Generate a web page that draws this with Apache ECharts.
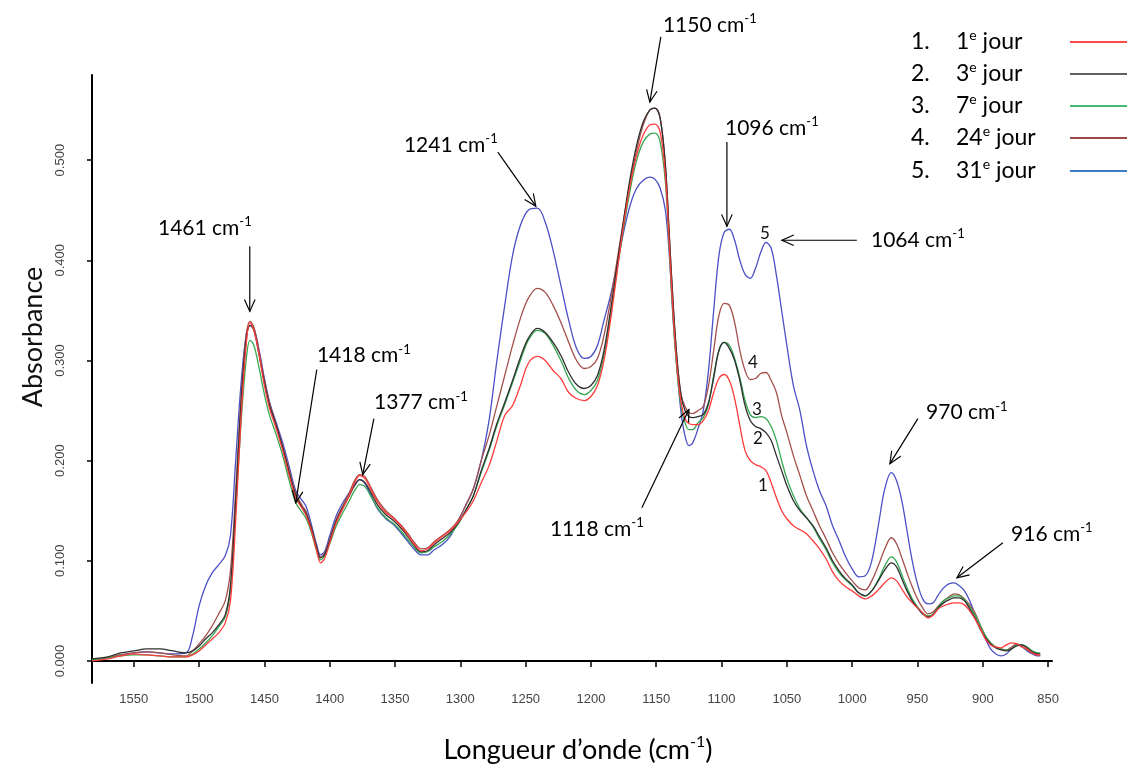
<!DOCTYPE html>
<html><head><meta charset="utf-8">
<script src="https://cdn.jsdelivr.net/npm/echarts@6/dist/echarts.min.js"></script>
<style>html,body{margin:0;padding:0;background:#fff}#c{width:1130px;height:770px}</style>
</head><body><div id="c"></div>
<script>
// Wavenumbers (cm-1)
const wavenumbers = [
1582,1570,1560,1550,1540,1530,1520,1510,1505,
1500,1495,1490,1485,1480,1476,1472,1468,1464,1461,
1458,1454,1450,1446,1441,1436,1431,1426,1421,1418,
1414,1410,1407,1404,1400,1395,1390,1385,1381,1377,
1373,1368,1363,1357,1351,1345,1340,1335,1330,1325,
1320,1314,1308,1302,1296,1290,1284,1278,1272,1266,
1260,1254,1248,1241,1235,1229,1223,1217,1211,1205,
1200,1195,1190,1185,1180,1175,1170,1165,1160,1155,
1151,1147,1143,1140,1137,1134,1131,1128,1125,1122,
1118,1114,1110,1106,1102,1098,1094,1090,1086,1082,
1078,1074,1070,1066,1062,1058,1054,1050,1045,
1040,1035,1030,1025,1020,1015,1010,1005,1000,
995,990,985,980,975,970,966,962,958,
954,950,946,942,938,934,930,926,922,
918,914,910,906,902,898,894,890,886,
882,878,874,870,866,862,858,856];

const day1 = [
.000,.002,.005,.007,.006,.005,.004,.004,.006,
.010,.016,.022,.028,.038,.060,.140,.240,.315,.338,
.330,.305,.275,.252,.232,.210,.185,.163,.152,.145,
.130,.110,.098,.102,.118,.138,.152,.165,.178,.185,
.182,.170,.158,.148,.142,.134,.125,.116,.110,.112,
.118,.124,.130,.138,.148,.160,.178,.195,.220,.245,
.255,.275,.297,.304,.300,.290,.282,.268,.262,.260,
.264,.275,.300,.340,.388,.435,.475,.505,.525,.535,
.536,.528,.485,.415,.345,.292,.258,.242,.237,.236,
.236,.240,.250,.268,.282,.286,.280,.262,.235,.210,
.200,.196,.194,.190,.178,.163,.150,.142,.135,
.131,.127,.120,.112,.102,.089,.080,.074,.070,
.065,.062,.065,.071,.078,.083,.080,.072,.064,
.058,.053,.048,.043,.046,.052,.055,.057,.058,
.058,.056,.050,.042,.033,.022,.016,.014,.013,
.016,.018,.017,.014,.012,.008,.006,.006];

const day3 = [
.002,.004,.008,.010,.012,.012,.010,.008,.010,
.015,.022,.028,.036,.046,.075,.160,.255,.320,.335,
.330,.305,.278,.255,.235,.213,.188,.165,.153,.147,
.132,.113,.103,.106,.120,.140,.153,.165,.175,.181,
.178,.167,.155,.146,.140,.132,.124,.115,.109,.110,
.116,.122,.128,.137,.150,.165,.190,.212,.237,.258,
.280,.303,.322,.332,.328,.318,.305,.288,.276,.272,
.275,.285,.310,.350,.395,.440,.482,.515,.538,.550,
.552,.542,.495,.425,.355,.300,.265,.250,.244,.243,
.244,.246,.258,.283,.310,.318,.312,.300,.280,.255,
.240,.234,.232,.228,.220,.205,.190,.175,.160,
.150,.143,.135,.124,.113,.100,.090,.082,.076,
.068,.065,.070,.080,.091,.098,.094,.082,.070,
.060,.053,.047,.044,.046,.053,.058,.061,.063,
.063,.060,.052,.043,.032,.023,.017,.013,.011,
.010,.012,.015,.016,.013,.009,.007,.007];

const day7 = [
.001,.003,.005,.006,.006,.005,.004,.004,.007,
.012,.018,.025,.034,.044,.070,.150,.235,.300,.320,
.315,.292,.266,.245,.226,.205,.180,.158,.148,.142,
.128,.110,.101,.105,.117,.135,.148,.160,.170,.176,
.174,.163,.152,.143,.137,.129,.121,.113,.108,.109,
.114,.119,.126,.136,.150,.165,.188,.210,.235,.256,
.278,.300,.320,.330,.327,.315,.300,.282,.270,.266,
.270,.280,.305,.345,.390,.432,.470,.500,.518,.526,
.527,.518,.478,.410,.340,.288,.254,.238,.231,.231,
.238,.243,.256,.285,.310,.318,.315,.302,.283,.260,
.246,.243,.244,.242,.234,.220,.200,.182,.165,
.152,.143,.134,.122,.111,.098,.088,.081,.075,
.068,.065,.070,.081,.095,.104,.099,.086,.073,
.062,.054,.048,.045,.047,.054,.060,.063,.065,
.065,.061,.054,.046,.036,.025,.018,.014,.012,
.011,.012,.016,.016,.014,.010,.008,.008];

const day24 = [
.001,.003,.006,.008,.009,.008,.006,.005,.010,
.017,.025,.035,.047,.060,.090,.170,.260,.325,.339,
.333,.308,.280,.257,.236,.214,.190,.167,.155,.149,
.133,.114,.104,.107,.121,.141,.155,.168,.180,.186,
.184,.172,.160,.150,.143,.135,.127,.118,.112,.113,
.119,.125,.131,.140,.155,.172,.200,.225,.255,.285,
.315,.342,.362,.372,.368,.355,.338,.318,.300,.292,
.294,.302,.325,.360,.400,.440,.478,.510,.535,.550,
.552,.542,.495,.425,.355,.300,.266,.254,.248,.247,
.250,.254,.275,.310,.345,.357,.355,.338,.310,.290,
.281,.282,.287,.288,.280,.268,.245,.228,.205,
.185,.165,.150,.135,.122,.108,.097,.088,.080,
.073,.071,.080,.095,.112,.123,.117,.103,.088,
.074,.062,.053,.047,.049,.055,.060,.064,.067,
.066,.062,.056,.048,.036,.025,.018,.014,.012,
.011,.014,.017,.015,.011,.008,.006,.006];

const day31 = [
.002,.003,.006,.008,.009,.008,.007,.008,.025,
.055,.075,.088,.096,.105,.125,.200,.275,.325,.335,
.332,.310,.282,.258,.238,.218,.194,.170,.160,.154,
.136,.116,.106,.109,.125,.145,.158,.168,.176,.181,
.177,.164,.151,.142,.136,.127,.119,.111,.106,.106,
.111,.116,.124,.139,.155,.172,.200,.240,.300,.355,
.405,.435,.450,.452,.438,.410,.375,.340,.312,.302,
.304,.315,.340,.365,.395,.428,.455,.472,.480,.483,
.481,.472,.450,.405,.340,.290,.248,.225,.215,.218,
.232,.250,.290,.350,.405,.428,.431,.420,.400,.386,
.382,.392,.408,.418,.412,.385,.350,.315,.275,
.250,.215,.190,.170,.155,.135,.120,.104,.092,
.084,.085,.100,.135,.172,.188,.180,.160,.130,
.100,.077,.062,.057,.058,.066,.073,.077,.078,
.075,.070,.060,.047,.034,.022,.012,.007,.005,
.007,.012,.016,.014,.010,.007,.005,.005];

const seriesNums = ['1.', '2.', '3.', '4.', '5.'];
const seriesDays = ['1', '3', '7', '24', '31'];
const xTicks = [1550,1500,1450,1400,1350,1300,1250,1200,1150,1100,1050,1000,950,900,850];
const yTicks = [0, 0.1, 0.2, 0.3, 0.4, 0.5];

// Peak annotations (text position, arrow start, arrow tip) in data units
const annoLabels = ['1461','1418','1377','1241','1150','1096','1064','1118','970','916'];
const annoTextW = [1495.6,1373.9,1330.2,1307.3,1109,1061.5,949.7,1195.5,912.2,847.1];
const annoTextA = [0.432,0.305,0.258,0.515,0.635,0.532,0.420,0.132,0.248,0.127];
const annoFromW = [1461.2,1409.9,1366.2,1271.3,1146.5,1095.9,996.4,1161,949.7,884.6];
const annoFromA = [0.414,0.291,0.242,0.508,0.623,0.518,0.420,0.153,0.242,0.118];
const annoToW = [1461.2,1426.0,1374.7,1242.2,1154.9,1095.9,1053.8,1125,971.1,919.8];
const annoToA = [0.349,0.158,0.186,0.454,0.558,0.434,0.420,0.251,0.197,0.083];

const curveLabels = ['5','4','3','2','1'];
const curveLabelW = [1066.8,1076,1073,1072.2,1068.4];
const curveLabelA = [0.427,0.298,0.251,0.222,0.175];

const plotColors = ['#ff3b3b','#2f2f2f','#36a852','#a3504c','#4a50c6'];
const legendColors = ['#ff4a4a','#606060','#45bb72','#9a4848','#3b7cc2'];
const FONT = 'Lato, "Open Sans", sans-serif';
const TICKFONT = '"Liberation Sans", Arial, sans-serif';

const chart = echarts.init(document.getElementById('c'), null, {renderer: 'canvas'});
const allDays = [day1, day3, day7, day24, day31];

const lineSeries = allDays.map((vals, k) => ({
  name: seriesDays[k],
  type: 'line',
  data: wavenumbers.map((w, i) => [w, vals[i]]),
  smooth: 0.35,
  showSymbol: false,
  lineStyle: {color: plotColors[k], width: 1.3},
  itemStyle: {color: plotColors[k]},
  z: 2 + (4 - k) * 0.1,
  animation: false
}));

const supRich = {
  m: {fontSize: 21, fontFamily: FONT, color: '#111', lineHeight: 25},
  s: {fontSize: 13, fontFamily: FONT, color: '#111', lineHeight: 14, verticalAlign: 'top'}
};

function renderArrow(params, api) {
  const i = params.dataIndex;
  const p0 = api.coord([annoFromW[i], annoFromA[i]]);
  const p1 = api.coord([annoToW[i], annoToA[i]]);
  const tp = api.coord([annoTextW[i], annoTextA[i]]);
  const dx = p1[0] - p0[0], dy = p1[1] - p0[1];
  const len = Math.hypot(dx, dy) || 1;
  const bx = -dx / len, by = -dy / len;
  const L = 13, ang = 0.42, c = Math.cos(ang), s = Math.sin(ang);
  const a1 = [p1[0] + L * (bx * c - by * s), p1[1] + L * (bx * s + by * c)];
  const a2 = [p1[0] + L * (bx * c + by * s), p1[1] + L * (-bx * s + by * c)];
  return {
    type: 'group',
    children: [
      {type: 'line', shape: {x1: p0[0], y1: p0[1], x2: p1[0], y2: p1[1]}, style: {stroke: '#000', lineWidth: 1.2}},
      {type: 'polyline', shape: {points: [a1, p1, a2]}, style: {stroke: '#000', lineWidth: 1.2, fill: null}},
      {type: 'text', x: tp[0], y: tp[1], style: {text: '{m|' + annoLabels[i] + ' cm}{s|-1}', rich: supRich, align: 'center', verticalAlign: 'middle'}}
    ]
  };
}

function renderCurveLabel(params, api) {
  const i = params.dataIndex;
  const p = api.coord([curveLabelW[i], curveLabelA[i]]);
  return {type: 'text', x: p[0], y: p[1], style: {text: curveLabels[i], font: '17px ' + FONT, fill: '#111', align: 'center', verticalAlign: 'middle'}};
}

// Legend drawn as graphic
const legendGraphics = [];
const legendRowY = [42, 74, 106, 138, 171];
const legRich = {
  m: {fontSize: 23, fontFamily: FONT, color: '#111', lineHeight: 28},
  s: {fontSize: 14, fontFamily: FONT, color: '#111', lineHeight: 16, verticalAlign: 'top'}
};
for (let k = 0; k < 5; k++) {
  const y = legendRowY[k];
  legendGraphics.push({type: 'text', x: 911, y: y, style: {text: '{m|' + seriesNums[k] + '}', rich: legRich, align: 'left', verticalAlign: 'middle'}});
  legendGraphics.push({type: 'text', x: 956, y: y, style: {text: '{m|' + seriesDays[k] + '}{s|e}{m| jour}', rich: legRich, align: 'left', verticalAlign: 'middle'}});
  legendGraphics.push({type: 'line', shape: {x1: 1070, y1: y, x2: 1127, y2: y}, style: {stroke: legendColors[k], lineWidth: 2}});
}

const option = {
  backgroundColor: '#fff',
  animation: false,
  grid: {left: 92, right: 78, top: 75, bottom: 87, containLabel: false},
  xAxis: {
    type: 'value', min: 847, max: 1582, inverse: true,
    axisLine: {show: true, lineStyle: {color: '#000', width: 2}},
    axisTick: {show: true, length: 6, lineStyle: {color: '#000', width: 1.5}, customValues: xTicks},
    axisLabel: {customValues: xTicks, color: '#444', fontSize: 13, fontFamily: TICKFONT, margin: 10,
      formatter: v => String(v)},
    splitLine: {show: false}
  },
  yAxis: {
    type: 'value', min: -0.022, max: 0.585,
    axisLine: {show: true, lineStyle: {color: '#000', width: 2}},
    axisTick: {show: true, length: 5, lineStyle: {color: '#000', width: 1.5}, customValues: yTicks},
    axisLabel: {customValues: yTicks, rotate: 90, color: '#444', fontSize: 13, fontFamily: TICKFONT, margin: 25,
      formatter: v => v.toFixed(3)},
    splitLine: {show: false}
  },
  graphic: [
    {type: 'text', x: 33, y: 337, rotation: Math.PI / 2, style: {text: 'Absorbance', font: '27px ' + FONT, fill: '#111', align: 'center', verticalAlign: 'middle'}},
    {type: 'text', x: 578, y: 750, style: {
      text: '{m|Longueur d\u2019onde (cm}{s|-1}{m|)}',
      rich: {m: {fontSize: 27, fontFamily: FONT, color: '#111', lineHeight: 32}, s: {fontSize: 16, fontFamily: FONT, color: '#111', lineHeight: 18, verticalAlign: 'top'}},
      align: 'center', verticalAlign: 'middle'}}
  ].concat(legendGraphics),
  series: lineSeries.concat([
    {type: 'custom', name: 'annotations', renderItem: renderArrow, clip: false, silent: true, z: 10,
      data: annoLabels.map((_, i) => [annoToW[i], annoToA[i]])},
    {type: 'custom', name: 'curveLabels', renderItem: renderCurveLabel, clip: false, silent: true, z: 10,
      data: curveLabels.map((_, i) => [curveLabelW[i], curveLabelA[i]])}
  ])
};
chart.setOption(option);
</script>
</body></html>
